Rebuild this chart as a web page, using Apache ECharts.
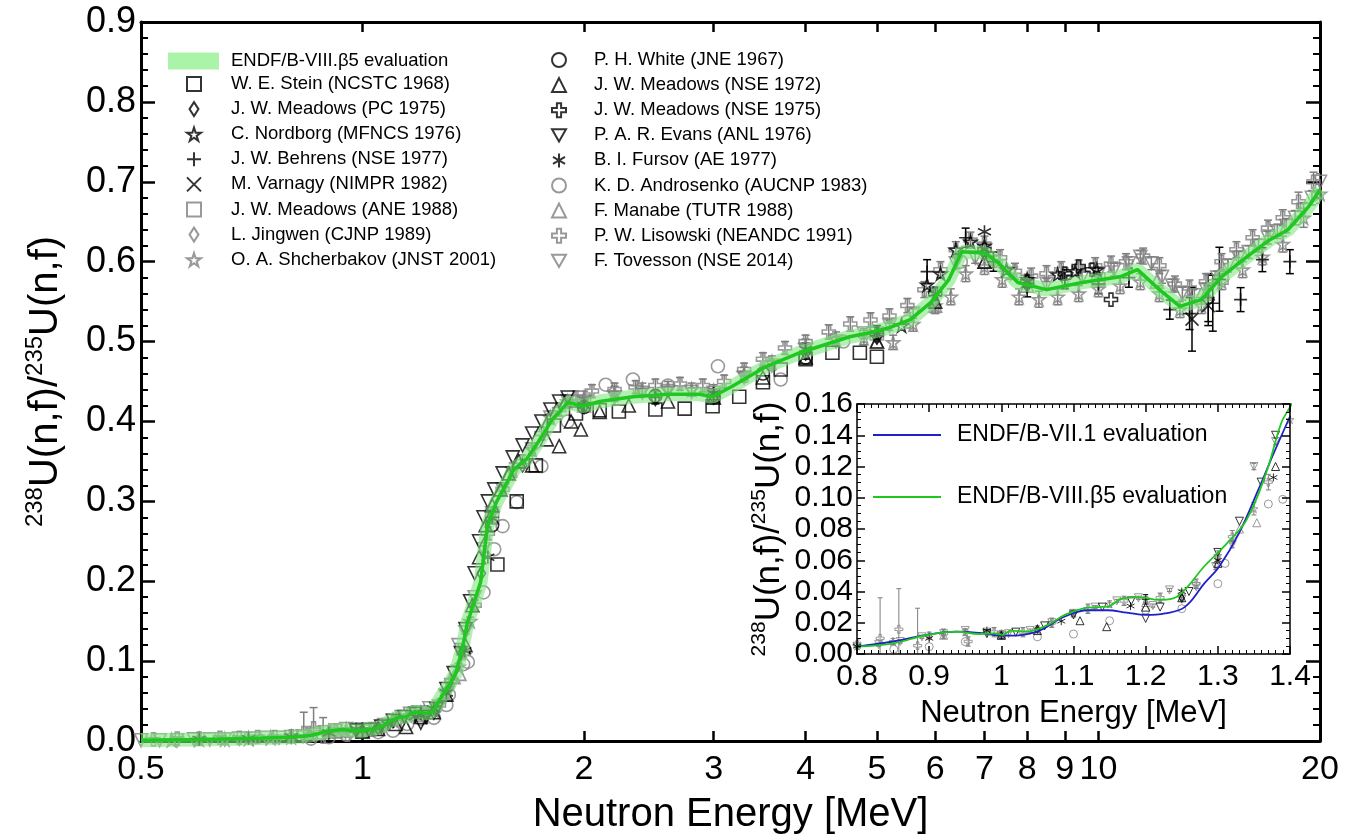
<!DOCTYPE html>
<html>
<head>
<meta charset="utf-8">
<script src="https://cdn.jsdelivr.net/npm/echarts@6/dist/echarts.min.js"></script>
<style>
  html, body { margin: 0; background: #fff; }
  #chart { width: 1352px; height: 840px; }
</style>
</head>
<body>
<div id="chart"></div>
<script>
// ---- data: [energy MeV, ratio, (error)] ----
const eval8 = [[0.5,0.001],[0.6,0.002],[0.7,0.003],[0.8,0.0047],[0.85,0.0068],[0.895,0.012],[0.938,0.0143],[0.97,0.0128],[0.991,0.0132],[1.002,0.0122],[1.013,0.015],[1.034,0.0143],[1.066,0.019],[1.088,0.025],[1.12,0.0297],[1.147,0.0303],[1.168,0.0356],[1.195,0.0363],[1.217,0.0346],[1.238,0.0356],[1.254,0.041],[1.281,0.056],[1.313,0.071],[1.34,0.086],[1.367,0.116],[1.388,0.148],[1.4,0.158],[1.447,0.199],[1.478,0.269],[1.52,0.299],[1.58,0.3275],[1.605,0.34],[1.67,0.3525],[1.742,0.3775],[1.77,0.3875],[1.81,0.4025],[1.855,0.4125],[1.9,0.424],[1.99,0.419],[2.1,0.425],[2.33,0.431],[2.6,0.434],[2.87,0.434],[2.99,0.431],[3.18,0.444],[3.54,0.469],[3.93,0.486],[4.59,0.506],[4.89,0.511],[5.2,0.5175],[5.55,0.5275],[5.92,0.549],[6.26,0.5775],[6.52,0.6125],[7.0,0.611],[7.3,0.599],[7.77,0.574],[8.5,0.565],[9.5,0.574],[10.7,0.581],[11.3,0.59],[12.1,0.565],[12.9,0.544],[13.8,0.5525],[14.7,0.581],[15.9,0.606],[17.1,0.6275],[18.1,0.64],[19.3,0.669],[20,0.69]];
const eval71 = [[0.8,0.0047],[0.85,0.008],[0.9,0.0125],[0.938,0.0143],[0.97,0.0135],[1.002,0.0117],[1.045,0.0137],[1.088,0.024],[1.12,0.028],[1.147,0.028],[1.174,0.0265],[1.2,0.025],[1.227,0.026],[1.254,0.03],[1.281,0.045],[1.302,0.056],[1.329,0.077],[1.356,0.105],[1.377,0.128],[1.4,0.152]];

const stein = [[1.525,0.221],[1.62,0.3],[1.72,0.345],[1.82,0.395],[1.95,0.41],[2.1,0.414],[2.23,0.4125],[2.5,0.415],[2.74,0.416],[2.99,0.419],[3.25,0.431],[3.5,0.449],[3.7,0.465],[4.0,0.478],[4.35,0.486],[4.74,0.486],[5.0,0.481]];
const meadowsPC = [[1.05,0.016],[1.25,0.036],[1.45,0.21],[1.65,0.345],[2.0,0.418],[2.5,0.428],[3.0,0.43],[4.0,0.485],[5.0,0.505],[6.0,0.55],[7.0,0.61],[8.0,0.57]];
const nordborg = [[5.4,0.52],[5.85,0.571],[6.1,0.585],[6.4,0.615],[6.7,0.625],[7.0,0.62],[7.5,0.59],[8.0,0.578],[8.8,0.584],[9.3,0.588],[9.95,0.59]];
const behrens = [[1.0,0.012,0.002],[1.2,0.035,0.003],[1.5,0.28,0.008],[2.0,0.42,0.008],[2.5,0.43,0.008],[3.0,0.432,0.008],[4.0,0.488,0.01],[5.0,0.51,0.01],[5.85,0.5875,0.015],[6.6,0.63,0.012],[7.2,0.6,0.012],[8.0,0.568,0.012],[9.0,0.578,0.012],[10.0,0.572,0.012],[11.0,0.58,0.012],[12.5,0.54,0.012],[13.3,0.535,0.02],[14.1,0.555,0.03],[14.3,0.548,0.035],[14.6,0.578,0.04],[15.6,0.5525,0.015],[16.7,0.6025,0.015],[18.2,0.6,0.015]];
const varnagy = [[13.4,0.528,0.04],[14.1,0.545,0.025]];
const meadowsANE = [[1.0,0.012],[1.5,0.282],[2.0,0.422],[3.0,0.433],[5.0,0.51],[10.0,0.578],[14.7,0.58]];
const jingwen = [[0.9,0.011],[1.1,0.026],[1.3,0.062],[1.5,0.28],[2.0,0.42],[3.0,0.43],[5.0,0.505]];
const shcherbakov = [[0.55,0.001,0.001],[0.6,0.002,0.001],[0.65,0.002,0.001],[0.7,0.003,0.001],[0.75,0.004,0.001],[0.8,0.005,0.001],[0.85,0.008,0.002],[0.9,0.012,0.002],[0.95,0.014,0.002],[1.0,0.013,0.002],[1.05,0.016,0.002],[1.1,0.026,0.002],[1.15,0.032,0.002],[1.2,0.035,0.002],[1.25,0.038,0.003],[1.3,0.063,0.003],[1.35,0.093,0.004],[1.4,0.15,0.005],[1.5,0.285,0.008],[1.6,0.34,0.008],[1.7,0.365,0.008],[1.8,0.405,0.008],[1.9,0.425,0.008],[2.0,0.43,0.008],[2.2,0.436,0.008],[2.4,0.44,0.008],[2.6,0.442,0.008],[2.8,0.44,0.008],[3.0,0.438,0.008],[3.3,0.46,0.008],[3.6,0.474,0.008],[4.0,0.495,0.008],[4.4,0.503,0.009],[4.8,0.505,0.009],[5.26,0.499,0.009],[5.6,0.522,0.009],[6.0,0.545,0.01],[6.3,0.556,0.01],[6.6,0.585,0.01],[7.0,0.594,0.01],[7.4,0.578,0.01],[7.8,0.556,0.01],[8.3,0.553,0.01],[8.8,0.556,0.01],[9.4,0.56,0.01],[10.0,0.566,0.01],[10.7,0.57,0.01],[11.4,0.575,0.01],[12.1,0.56,0.01],[12.9,0.54,0.01],[13.8,0.545,0.01],[14.7,0.575,0.01],[15.7,0.59,0.01],[16.7,0.606,0.01],[17.8,0.622,0.01],[19.0,0.655,0.012],[20.0,0.685,0.012]];
const white = [[1.5,0.27],[2.0,0.418],[2.5,0.432],[3.0,0.43],[3.5,0.46],[4.0,0.48]];
const meadows72 = [[1.0,0.012],[1.05,0.015],[1.109,0.0213],[1.146,0.0175],[1.2,0.03],[1.25,0.036],[1.3,0.058],[1.38,0.12],[1.41,0.17],[1.44,0.23],[1.47,0.27],[1.5,0.295],[1.54,0.315],[1.58,0.335],[1.63,0.35],[1.7,0.345],[1.78,0.3775],[1.85,0.369],[1.92,0.4],[1.98,0.39],[2.1,0.412],[2.3,0.42],[2.6,0.425],[3.0,0.43],[3.5,0.455],[4.0,0.48],[5.0,0.5],[6.0,0.55],[7.0,0.6]];
const meadows75 = [[5.0,0.51],[6.0,0.56],[7.0,0.615],[8.0,0.575],[9.0,0.585],[9.4,0.594],[9.8,0.59],[10.4,0.5525]];
const evans = [[0.98,0.013],[1.02,0.014],[1.06,0.018],[1.1,0.025],[1.14,0.03],[1.18,0.034],[1.2,0.0228],[1.22,0.03],[1.26,0.04],[1.3,0.065],[1.33,0.085],[1.36,0.11],[1.38,0.14],[1.4,0.175],[1.42,0.21],[1.44,0.25],[1.46,0.28],[1.48,0.3],[1.51,0.315],[1.55,0.335],[1.6,0.355],[1.65,0.37],[1.7,0.385],[1.75,0.4],[1.8,0.415],[1.85,0.425],[1.9,0.43]];
const fursov = [[0.6,0.002],[0.7,0.003],[0.8,0.005],[0.9,0.01],[0.98,0.015],[1.083,0.021],[1.179,0.0307],[1.25,0.04],[1.3,0.06],[1.377,0.113],[1.48,0.23],[2.0,0.42],[3.0,0.435],[4.0,0.49],[5.0,0.51],[6.0,0.56],[7.0,0.6375]];
const androsenko = [[0.851,0.003],[0.9,0.0047],[0.95,0.0079],[1.05,0.011],[1.1,0.0128],[1.15,0.0213],[1.2,0.028],[1.25,0.029],[1.3,0.045],[1.31,0.058],[1.37,0.096],[1.39,0.099],[1.46,0.186],[1.51,0.24],[1.55,0.269],[1.62,0.299],[1.75,0.344],[1.9,0.4],[2.14,0.446],[2.33,0.4525],[2.6,0.445],[3.04,0.469],[3.7,0.4525],[4.5,0.5],[5.5,0.525],[6.5,0.6]];
const manabe = [[0.92,0.012],[1.0,0.013],[1.2,0.033],[1.33,0.08],[1.354,0.084],[1.5,0.28],[2.0,0.42],[3.0,0.43],[4.0,0.48],[5.0,0.5],[6.0,0.545],[7.0,0.6],[8.0,0.57],[10.0,0.58],[12.0,0.575],[14.0,0.56]];
const lisowski = [[0.52,0.002,0.002],[0.56,0.003,0.002],[0.6,0.003,0.002],[0.64,0.004,0.002],[0.68,0.004,0.002],[0.72,0.005,0.002],[0.76,0.005,0.002],[0.8,0.006,0.003],[0.832,0.01,0.026],[0.858,0.0158,0.026],[0.884,0.0053,0.024],[0.92,0.013,0.003],[0.954,0.008,0.003],[0.99,0.014,0.003],[1.03,0.014,0.003],[1.07,0.02,0.003],[1.12,0.029,0.003],[1.17,0.034,0.003],[1.22,0.036,0.003],[1.27,0.045,0.003],[1.32,0.075,0.004],[1.37,0.11,0.005],[1.42,0.17,0.006],[1.48,0.26,0.008],[1.55,0.315,0.008],[1.65,0.35,0.008],[1.75,0.385,0.008],[1.85,0.415,0.008],[1.95,0.43,0.008],[2.05,0.438,0.008],[2.2,0.44,0.008],[2.35,0.443,0.008],[2.5,0.445,0.008],[2.7,0.447,0.008],[2.9,0.445,0.008],[3.1,0.45,0.008],[3.3,0.465,0.008],[3.5,0.478,0.008],[3.75,0.492,0.008],[4.0,0.5,0.008],[4.3,0.512,0.009],[4.6,0.522,0.009],[4.9,0.527,0.009],[5.2,0.532,0.009],[5.5,0.545,0.009],[5.8,0.565,0.01],[6.1,0.59,0.01],[6.4,0.615,0.01],[6.7,0.627,0.01],[7.0,0.622,0.01],[7.35,0.605,0.01],[7.7,0.588,0.01],[8.1,0.582,0.01],[8.5,0.585,0.01],[8.9,0.59,0.01],[9.4,0.592,0.01],[9.9,0.595,0.01],[10.4,0.597,0.01],[10.9,0.6,0.01],[11.5,0.607,0.01],[12.1,0.595,0.01],[12.7,0.572,0.01],[13.3,0.567,0.01],[14.0,0.575,0.01],[14.7,0.6,0.01],[15.4,0.615,0.01],[16.2,0.63,0.01],[17.0,0.642,0.01],[17.8,0.655,0.01],[18.7,0.675,0.012],[19.6,0.7,0.012]];
const tovesson = [[0.5,0.001,0.001],[0.53,0.001,0.001],[0.56,0.001,0.001],[0.59,0.002,0.001],[0.62,0.002,0.001],[0.65,0.002,0.001],[0.68,0.003,0.001],[0.71,0.003,0.001],[0.74,0.004,0.001],[0.77,0.004,0.001],[0.8,0.005,0.001],[0.83,0.006,0.001],[0.86,0.008,0.001],[0.89,0.011,0.001],[0.92,0.013,0.001],[0.95,0.015,0.001],[0.98,0.014,0.001],[1.01,0.013,0.001],[1.04,0.015,0.001],[1.07,0.02,0.001],[1.1,0.026,0.001],[1.13,0.03,0.001],[1.16,0.034,0.001],[1.19,0.036,0.001],[1.21,0.031,0.001],[1.233,0.041,0.001],[1.25,0.035,0.001],[1.27,0.043,0.001],[1.297,0.056,0.002],[1.32,0.07,0.002],[1.35,0.12,0.002],[1.38,0.136,0.002],[1.42,0.18,0.003],[1.46,0.24,0.004],[1.5,0.285,0.005],[1.55,0.315,0.005],[1.6,0.335,0.005],[1.7,0.365,0.005],[1.8,0.405,0.005],[1.9,0.425,0.005],[2.0,0.425,0.005],[2.2,0.43,0.005],[2.4,0.436,0.005],[2.6,0.438,0.005],[2.8,0.437,0.005],[3.0,0.436,0.005],[3.3,0.455,0.006],[3.6,0.47,0.006],[4.0,0.49,0.006],[4.4,0.5,0.006],[4.8,0.51,0.006],[5.2,0.52,0.006],[5.6,0.535,0.006],[6.0,0.56,0.007],[6.4,0.598,0.007],[6.8,0.605,0.007],[7.2,0.6,0.007],[7.6,0.585,0.007],[8.0,0.575,0.007],[8.5,0.572,0.007],[9.0,0.575,0.007],[9.5,0.58,0.007],[10.0,0.585,0.008],[10.5,0.59,0.008],[11.0,0.598,0.008],[11.4,0.606,0.008],[11.8,0.598,0.008],[12.2,0.581,0.008],[12.6,0.57,0.008],[13.0,0.56,0.008],[13.5,0.558,0.008],[14.0,0.565,0.008],[14.5,0.58,0.008],[15.0,0.595,0.008],[15.5,0.605,0.008],[16.0,0.612,0.008],[16.5,0.62,0.008],[17.0,0.63,0.008],[17.5,0.638,0.009],[18.0,0.645,0.009],[18.5,0.655,0.009],[19.0,0.665,0.009],[19.5,0.68,0.009],[20.0,0.7,0.01]];

const xTicks = [0.5, 1, 2, 3, 4, 5, 6, 7, 8, 9, 10, 20];

const FONT = "'Liberation Sans', Arial, Helvetica, sans-serif";
const BLACK = '#000';
const GRAY = '#7f7f7f';
const SYM = {
  square: 'rect',
  diamond: 'path://M50,0L82,50L50,100L18,50Z',
  circle: 'circle',
  tri: 'triangle',
  star: 'path://M50,0L61,35L98,35L68,57L79,91L50,70L21,91L32,57L2,35L39,35Z',
  plus: 'path://M50,0L50,100M0,50L100,50',
  x: 'path://M0,0L100,100M100,0L0,100',
  cross: 'path://M35,0L65,0L65,35L100,35L100,65L65,65L65,100L35,100L35,65L0,65L0,35L35,35Z',
  dtri: 'path://M0,0L100,0L50,87Z',
  ast: 'path://M50,0L50,100M7,25L93,75M93,25L7,75'
};

const ENDF8 = 'ENDF/B-VIII.β5 evaluation';
const ENDF7 = 'ENDF/B-VII.1 evaluation';

// legend order: column 1 then column 2
const col1 = [
  { name: 'W. E. Stein (NCSTC 1968)', data: stein, sym: SYM.square, col: BLACK },
  { name: 'J. W. Meadows (PC 1975)', data: meadowsPC, sym: SYM.diamond, col: BLACK },
  { name: 'C. Nordborg (MFNCS 1976)', data: nordborg, sym: SYM.star, col: BLACK },
  { name: 'J. W. Behrens (NSE 1977)', data: behrens, sym: SYM.plus, col: BLACK },
  { name: 'M. Varnagy (NIMPR 1982)', data: varnagy, sym: SYM.x, col: BLACK },
  { name: 'J. W. Meadows (ANE 1988)', data: meadowsANE, sym: SYM.square, col: GRAY },
  { name: 'L. Jingwen (CJNP 1989)', data: jingwen, sym: SYM.diamond, col: GRAY },
  { name: 'O. A. Shcherbakov (JNST 2001)', data: shcherbakov, sym: SYM.star, col: GRAY }
];
const col2 = [
  { name: 'P. H. White (JNE 1967)', data: white, sym: SYM.circle, col: BLACK },
  { name: 'J. W. Meadows (NSE 1972)', data: meadows72, sym: SYM.tri, col: BLACK },
  { name: 'J. W. Meadows (NSE 1975)', data: meadows75, sym: SYM.cross, col: BLACK },
  { name: 'P. A. R. Evans (ANL 1976)', data: evans, sym: SYM.dtri, col: BLACK },
  { name: 'B. I. Fursov (AE 1977)', data: fursov, sym: SYM.ast, col: BLACK },
  { name: 'K. D. Androsenko (AUCNP 1983)', data: androsenko, sym: SYM.circle, col: GRAY },
  { name: 'F. Manabe (TUTR 1988)', data: manabe, sym: SYM.tri, col: GRAY },
  { name: 'P. W. Lisowski (NEANDC 1991)', data: lisowski, sym: SYM.cross, col: GRAY },
  { name: 'F. Tovesson (NSE 2014)', data: tovesson, sym: SYM.dtri, col: GRAY }
];
const allSets = col1.concat(col2);

const inInset = (d) => d[0] >= 0.8 && d[0] <= 1.4 && d[1] <= 0.16;

function scatter(s, idx, inset) {
  const data = (inset ? s.data.filter(inInset) : s.data).map((d) => [d[0], d[1]]);
  const base = inset ? 8 : 13;
  return {
    type: 'scatter', name: s.name, xAxisIndex: idx, yAxisIndex: idx,
    data, symbol: s.sym,
    symbolSize: s.sym === SYM.diamond ? [base * 0.65, base] : base,
    itemStyle: { color: 'rgba(0,0,0,0)', borderColor: s.col, borderWidth: inset ? 1 : 1.6 },
    z: inset ? (s.col === BLACK ? 9 : 8) : (s.col === BLACK ? 3 : 2),
    silent: true, clip: true, animation: false
  };
}

function errorBars(s, idx, inset) {
  const rows = s.data.filter((d) => d.length > 2 && (!inset || inInset(d)));
  const cap = inset ? 2.5 : 4;
  return {
    type: 'custom', name: s.name, xAxisIndex: idx, yAxisIndex: idx,
    data: rows.map((d) => [d[0], d[1] - d[2], d[1] + d[2]]),
    encode: { x: 0, y: [1, 2] },
    renderItem(params, api) {
      const lo = api.coord([api.value(0), api.value(1)]);
      const hi = api.coord([api.value(0), api.value(2)]);
      const style = { stroke: s.col, lineWidth: inset ? 1 : 1.5 };
      return {
        type: 'group',
        children: [
          { type: 'line', shape: { x1: lo[0], y1: lo[1], x2: hi[0], y2: hi[1] }, style },
          { type: 'line', shape: { x1: hi[0] - cap, y1: hi[1], x2: hi[0] + cap, y2: hi[1] }, style },
          { type: 'line', shape: { x1: lo[0] - cap, y1: lo[1], x2: lo[0] + cap, y2: lo[1] }, style }
        ]
      };
    },
    z: inset ? 8 : 2, silent: true, clip: true, animation: false
  };
}

const series = [];
allSets.forEach((s) => series.push(scatter(s, 0, false)));
allSets.forEach((s) => series.push(scatter(s, 1, true)));
allSets.forEach((s) => {
  if (s.data.some((d) => d.length > 2)) {
    series.push(errorBars(s, 0, false));
    series.push(errorBars(s, 1, true));
  }
});
series.push({
  type: 'line', name: ENDF8, xAxisIndex: 0, yAxisIndex: 0, data: eval8,
  showSymbol: false, color: '#aaf4aa',
  lineStyle: { color: 'rgba(130,230,130,0.6)', width: 14 }, z: 4, silent: true, animation: false
});
series.push({
  type: 'line', name: ENDF8 + ' line', xAxisIndex: 0, yAxisIndex: 0, data: eval8,
  showSymbol: false, color: '#1ec81e',
  lineStyle: { color: '#1ec81e', width: 3.5 }, z: 5, silent: true, animation: false
});
series.push({
  type: 'line', name: ENDF7, xAxisIndex: 1, yAxisIndex: 1, data: eval71,
  showSymbol: false, smooth: 0.4, color: '#2020c8',
  lineStyle: { color: '#2020c8', width: 1.8 }, z: 10, silent: true, animation: false
});
series.push({
  type: 'line', name: ENDF8 + ' (inset)', xAxisIndex: 1, yAxisIndex: 1, data: eval8,
  showSymbol: false, smooth: 0.4, color: '#1ec81e', clip: true,
  lineStyle: { color: '#1ec81e', width: 1.8 }, z: 11, silent: true, animation: false
});

const axisLine = (w) => ({ show: true, onZero: false, lineStyle: { color: '#000', width: w } });

function mainX(top) {
  return {
    type: 'log', logBase: 10, gridIndex: 0, min: 0.5, max: 20,
    position: top ? 'top' : 'bottom',
    axisLine: axisLine(3),
    axisTick: { show: true, inside: true, length: 10, customValues: xTicks, lineStyle: { width: 2.5, color: '#000' } },
    minorTick: { show: false },
    axisLabel: top ? { show: false } : {
      show: true, customValues: xTicks, formatter: (v) => String(v), margin: 12,
      fontSize: 34, fontFamily: FONT, color: '#000'
    },
    splitLine: { show: false },
    name: top ? '' : 'Neutron Energy [MeV]', nameLocation: 'middle', nameGap: 54,
    nameTextStyle: { fontSize: 40, fontFamily: FONT, color: '#000' }
  };
}
function mainY(right) {
  return {
    type: 'value', gridIndex: 0, min: 0, max: 0.9, interval: 0.1,
    position: right ? 'right' : 'left',
    axisLine: axisLine(3),
    axisTick: { show: true, inside: true, length: 14, lineStyle: { width: 2.5, color: '#000' } },
    minorTick: { show: true, splitNumber: 5, length: 7, lineStyle: { width: 2, color: '#000' } },
    axisLabel: right ? { show: false } : {
      show: true, formatter: (v) => v.toFixed(1), margin: 5,
      fontSize: 36, fontFamily: FONT, color: '#000'
    },
    splitLine: { show: false },
    name: right ? '' : '{sup|238}{b|U(n,f)/}{sup|235}{b|U(n,f)}',
    nameLocation: 'middle', nameRotate: 90, nameGap: 72,
    nameTextStyle: {
      fontFamily: FONT, color: '#000', fontSize: 40,
      rich: {
        b: { fontSize: 40, fontFamily: FONT, color: '#000', lineHeight: 46 },
        sup: { fontSize: 24, fontFamily: FONT, color: '#000', lineHeight: 24, verticalAlign: 'top' }
      }
    }
  };
}
function insetX(top) {
  return {
    type: 'value', gridIndex: 1, min: 0.8, max: 1.4, interval: 0.1,
    position: top ? 'top' : 'bottom', z: 12,
    axisLine: axisLine(1.5),
    axisTick: { show: true, inside: true, length: 8, lineStyle: { width: 1.5, color: '#000' } },
    minorTick: { show: true, splitNumber: 10, length: 4, lineStyle: { width: 1, color: '#000' } },
    axisLabel: top ? { show: false } : {
      show: true, formatter: (v) => String(Math.round(v * 10) / 10), margin: 8,
      fontSize: 30, fontFamily: FONT, color: '#000'
    },
    splitLine: { show: false },
    name: top ? '' : 'Neutron Energy [MeV]', nameLocation: 'middle', nameGap: 44,
    nameTextStyle: { fontSize: 31, fontFamily: FONT, color: '#000' }
  };
}
function insetY(right) {
  return {
    type: 'value', gridIndex: 1, min: 0, max: 0.16, interval: 0.02,
    position: right ? 'right' : 'left', z: 12,
    axisLine: axisLine(1.5),
    axisTick: { show: true, inside: true, length: 8, lineStyle: { width: 1.5, color: '#000' } },
    minorTick: { show: true, splitNumber: 4, length: 4, lineStyle: { width: 1, color: '#000' } },
    axisLabel: right ? { show: false } : {
      show: true, formatter: (v) => v.toFixed(2), margin: 4,
      fontSize: 30, fontFamily: FONT, color: '#000'
    },
    splitLine: { show: false },
    name: right ? '' : '{sup|238}{b|U(n,f)/}{sup|235}{b|U(n,f)}',
    nameLocation: 'middle', nameRotate: 90, nameGap: 68,
    nameTextStyle: {
      fontFamily: FONT, color: '#000', fontSize: 35,
      rich: {
        b: { fontSize: 35, fontFamily: FONT, color: '#000', lineHeight: 40 },
        sup: { fontSize: 21, fontFamily: FONT, color: '#000', lineHeight: 21, verticalAlign: 'top' }
      }
    }
  };
}

const legendText = (size, lh, padLeft) => ({
  fontSize: size, lineHeight: lh, fontFamily: FONT, color: '#000', padding: [0, 0, 0, padLeft]
});

const option = {
  backgroundColor: '#fff',
  animation: false,
  grid: [
    { left: 141, top: 22, width: 1179, height: 720, containLabel: false },
    { left: 857, top: 404, width: 433, height: 250, show: true, backgroundColor: '#fff', borderWidth: 0, z: 6 }
  ],
  xAxis: [mainX(false), insetX(false), mainX(true), insetX(true)],
  yAxis: [mainY(false), insetY(false), mainY(true), insetY(true)],
  legend: [
    {
      data: [{ name: ENDF8, icon: 'rect' }], orient: 'vertical', left: 168, top: 51, padding: 0,
      itemWidth: 51, itemHeight: 17, selectedMode: false, textStyle: legendText(18.5, 20, 7)
    },
    {
      data: col1.map((s) => s.name), orient: 'vertical', left: 186, top: 74, padding: 0,
      itemWidth: 14, itemHeight: 14, itemGap: 5.1, selectedMode: false, textStyle: legendText(18.5, 20, 25)
    },
    {
      data: col2.map((s) => s.name), orient: 'vertical', left: 551, top: 50, padding: 0,
      itemWidth: 14, itemHeight: 14, itemGap: 5.1, selectedMode: false, textStyle: legendText(18.5, 20, 23)
    },
    {
      data: [{ name: ENDF7, icon: 'rect' }, { name: ENDF8 + ' (inset)', icon: 'rect' }],
      formatter: (n) => n.replace(' (inset)', ''), z: 13,
      orient: 'vertical', left: 873, top: 422, padding: 0,
      itemWidth: 68, itemHeight: 2, itemGap: 36, selectedMode: false, textStyle: legendText(23, 26, 11)
    }
  ],
  series
};

// mirror axes (top/right) have no series; axis indices above are [mainBottom, insetBottom, mainTop, insetTop]
const chart = echarts.init(document.getElementById('chart'), null, { renderer: 'canvas' });
chart.setOption(option);
</script>
</body>
</html>
